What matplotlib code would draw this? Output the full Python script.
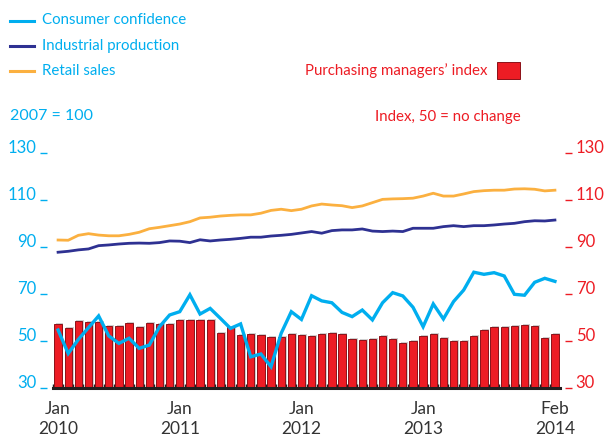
import numpy as np
import matplotlib
matplotlib.use("Agg")
import matplotlib.pyplot as plt
from matplotlib.lines import Line2D
from matplotlib.patches import Rectangle
import matplotlib.transforms as mtransforms

plt.rcParams["font.family"] = ["Lato", "DejaVu Sans"]

# ─── Data (monthly, Jan 2010 – Feb 2014) ─────────────────────────────────────
pmi = [57.2, 55.5, 58.6, 58.2, 58.2, 56.4, 56.4, 57.8, 56.1, 57.7, 57.4, 57.2,
       58.9, 59.0, 59.0, 59.0, 53.5, 56.0, 52.7, 53.0, 52.5, 51.8, 51.8, 53.0,
       52.5, 52.1, 53.1, 53.5, 53.1, 50.8, 50.4, 50.9, 52.3, 51.0, 49.4, 50.3,
       52.3, 53.1, 51.4, 50.1, 50.1, 52.3, 54.8, 56.1, 56.1, 56.4, 56.9, 56.4,
       51.4, 53.1]
consumer_confidence = [54.8, 44.8, 50.8, 55.8, 60.8, 52.3, 49.1, 51.3, 47.0, 48.4,
                       56.2, 61.2, 62.6, 69.8, 61.6, 64.0, 59.8, 55.5, 57.4, 43.4,
                       44.6, 39.2, 53.4, 62.6, 59.3, 69.4, 67.2, 66.4, 62.3, 60.5,
                       63.3, 59.1, 66.4, 70.7, 69.3, 64.5, 56.2, 65.9, 59.5, 66.9,
                       71.8, 79.4, 78.5, 79.2, 77.8, 70.0, 69.6, 75.1, 76.8, 75.5]
industrial_production = [87.9, 88.3, 88.9, 89.3, 90.7, 91.0, 91.4, 91.7, 91.8, 91.7,
                         92.0, 92.7, 92.6, 92.0, 93.2, 92.7, 93.1, 93.4, 93.8, 94.3,
                         94.3, 94.8, 95.1, 95.5, 96.1, 96.7, 96.0, 97.1, 97.4, 97.4,
                         97.8, 96.9, 96.7, 96.9, 96.7, 98.1, 98.1, 98.1, 98.8, 99.2,
                         98.8, 99.2, 99.2, 99.5, 99.9, 100.2, 100.9, 101.3, 101.2, 101.6]
retail_sales = [93.1, 93.0, 95.1, 95.8, 95.2, 94.9, 94.9, 95.5, 96.4, 97.9,
                98.5, 99.2, 99.9, 100.9, 102.5, 102.8, 103.3, 103.6, 103.8, 103.8,
                104.5, 105.7, 106.2, 105.6, 106.2, 107.6, 108.4, 108.0, 107.7, 106.9,
                107.6, 109.0, 110.4, 110.6, 110.7, 110.9, 111.8, 113.0, 111.8, 111.8,
                112.7, 113.7, 114.1, 114.3, 114.3, 114.8, 114.9, 114.7, 114.0, 114.3]

x_tick_pos = [0, 12, 24, 36, 49]
x_tick_labels = ["Jan\n2010", "Jan\n2011", "Jan\n2012", "Jan\n2013", "Feb\n2014"]
y_ticks = [30, 50, 70, 90, 110, 130]

BLUE = "#00aeef"
NAVY = "#2e3192"
ORANGE = "#fbb040"
RED = "#ed1c24"
DARK_RED = "#8c1118"
INK = "#231f20"

# ─── Figure ──────────────────────────────────────────────────────────────────
W, H = 605, 437
fig = plt.figure(figsize=(W / 100, H / 100), dpi=100)
fig.patch.set_facecolor("white")

def fx(px):
    return px / W

def fy(py):
    return 1 - py / H

ax = fig.add_axes([fx(52.5), fy(388.3), fx(559.5) - fx(52.5), fy(153.3) - fy(388.3)])
ax.set_xlim(-0.55, 49.45)
ax.set_ylim(30, 130)
for sp in ax.spines.values():
    sp.set_visible(False)

months = np.arange(len(pmi))
pmi_arr = np.array(pmi)

# bars with a soft grey drop shadow
ax.bar(months + 0.17, pmi_arr - 30 + 0.45, bottom=30, width=0.72,
       color="#cfcfcf", linewidth=0, zorder=1)
ax.bar(months, pmi_arr - 30, bottom=30, width=0.72,
       color=RED, edgecolor=DARK_RED, linewidth=0.7, zorder=2)

ax.plot(months, retail_sales, color=ORANGE, lw=2.0, zorder=3,
        solid_joinstyle="round")
ax.plot(months, industrial_production, color=NAVY, lw=2.0, zorder=3,
        solid_joinstyle="round")
ax.plot(months, consumer_confidence, color=BLUE, lw=2.4, zorder=4,
        solid_joinstyle="miter")

# baseline
ax.axhline(30, color=INK, lw=2.2, zorder=5, clip_on=False)

# x axis
ax.set_xticks(x_tick_pos, x_tick_labels)
ax.set_xticks(months - 0.5, minor=True)
ax.tick_params(axis="x", which="major", length=0, pad=9, labelsize=12.5,
               labelcolor="#333333")
ax.tick_params(axis="x", which="minor", direction="in", length=3, width=1,
               color=INK)
for lbl in ax.get_xticklabels():
    lbl.set_linespacing(1.3)

# left ticks (blue) and right ticks (red)
ax.spines["left"].set_position(("outward", 4))
ax.set_yticks(y_ticks)
ax.tick_params(axis="y", which="major", left=True, right=False, length=5.2,
               width=1, color=BLUE, labelleft=False)
ax2 = ax.twinx()
ax2.set_ylim(ax.get_ylim())
for sp in ax2.spines.values():
    sp.set_visible(False)
ax2.spines["right"].set_position(("outward", 4))
ax2.set_yticks(y_ticks)
ax2.tick_params(axis="y", which="major", length=5.2, width=1, color=RED,
                labelright=False)

trans = mtransforms.blended_transform_factory(ax.transAxes, ax.transData)
for v in y_ticks:
    ax.text(-0.031, v, str(v), transform=trans, ha="right", va="baseline",
            fontsize=12, color=BLUE)
    ax.text(1.032, v, str(v), transform=trans, ha="left", va="baseline",
            fontsize=12, color=RED)

# ─── Legend and headers ──────────────────────────────────────────────────────
legend_rows = [("Consumer confidence", BLUE, 20.5),
               ("Industrial production", NAVY, 46),
               ("Retail sales", ORANGE, 71)]
for label, col, py in legend_rows:
    fig.add_artist(Line2D([fx(9.5), fx(33.5)], [fy(py), fy(py)], color=col, lw=2.2))
    fig.text(fx(42), fy(py), label, ha="left", va="center", fontsize=10.8,
             color=BLUE)

fig.text(fx(487.5), fy(71), "Purchasing managers’ index", ha="right", va="center",
         fontsize=10.8, color=RED)
fig.add_artist(Rectangle((fx(497), fy(78.5)), fx(520) - fx(497), fy(62) - fy(78.5),
                         facecolor=RED, edgecolor=DARK_RED, lw=0.7,
                         transform=fig.transFigure))

fig.text(fx(9.5), fy(116.5), "2007 = 100", ha="left", va="center",
         fontsize=11.5, color=BLUE)
fig.text(fx(520.5), fy(116.5), "Index, 50 = no change", ha="right", va="center",
         fontsize=10.8, color=RED)

fig.savefig("out.png", dpi=100)
